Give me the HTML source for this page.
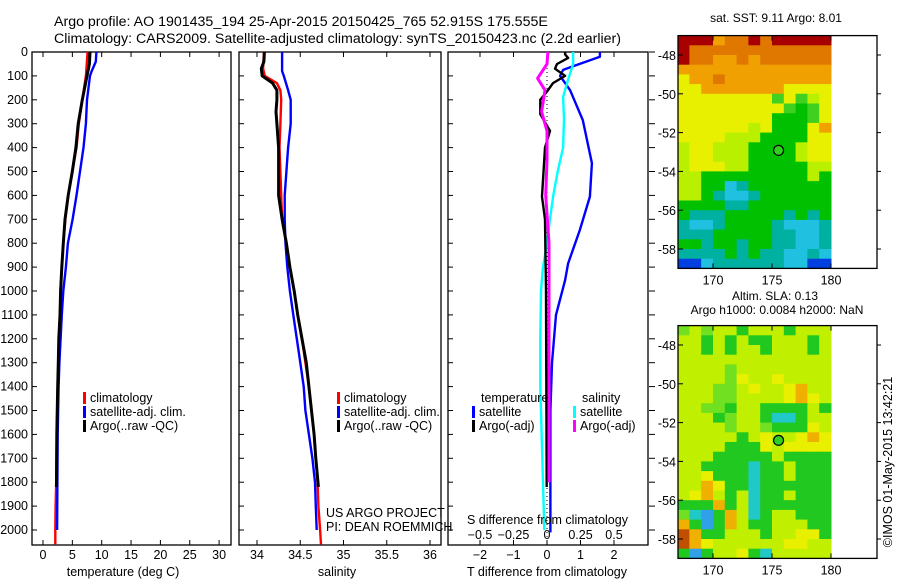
<!DOCTYPE html>
<html><head><meta charset="utf-8"><title>Argo profile</title>
<style>
html,body{margin:0;padding:0;background:#fff;}
svg{display:block;font-family:"Liberation Sans",sans-serif;}
text{fill:#000;}
</style></head>
<body>
<svg id="fig" width="900" height="580" viewBox="0 0 900 580" xmlns="http://www.w3.org/2000/svg">
<text x="54" y="26" font-size="14.2">Argo profile: AO 1901435_194 25-Apr-2015 20150425_765 52.915S 175.555E</text>
<text x="54" y="43" font-size="14.2">Climatology: CARS2009. Satellite-adjusted climatology: synTS_20150423.nc (2.2d earlier)</text>
<g id="g"></g>
</svg>
<script>
// ---- data ----
const tClimDepth = [0,100,200,300,400,500,600,700,800,900,1000,1100,1200,1300,1400,1600,1800,1900,2000,2060];
const tClimVals  = [7.6,7.3,6.7,6.1,5.7,5.0,4.3,3.8,3.45,3.2,3.0,2.9,2.7,2.6,2.5,2.35,2.25,2.15,2.1,2.1];
const tSatDepth  = [0,40,80,100,200,300,400,500,600,700,800,900,1000,1100,1200,1300,1400,1600,1800,2000];
const tSatVals   = [9.1,9.0,8.3,8.0,7.5,7.3,6.9,6.3,5.7,5.05,4.25,3.9,3.45,3.2,3.0,2.8,2.65,2.5,2.45,2.4];
const tArgoDepth = [0,50,100,200,300,400,500,600,700,800,900,1000,1100,1200,1300,1400,1600,1820];
const tArgoVals  = [8.01,7.9,7.5,6.7,6.0,5.6,5.0,4.3,3.75,3.45,3.2,3.0,2.9,2.7,2.6,2.5,2.35,2.3];

const sClimDepth = [0,70,100,130,160,200,300,400,500,600,700,800,900,1000,1100,1200,1300,1400,1500,1600,1700,1800,1900,2000,2060];
const sClimVals  = [34.08,34.07,34.09,34.23,34.27,34.28,34.27,34.26,34.27,34.28,34.29,34.34,34.38,34.43,34.47,34.52,34.56,34.60,34.63,34.66,34.68,34.70,34.71,34.73,34.74];
const sSatDepth  = [0,80,100,160,200,300,400,500,600,700,800,900,1000,1100,1200,1300,1400,1500,1600,1700,1800,1900,2000];
const sSatVals   = [34.29,34.29,34.31,34.36,34.39,34.39,34.36,34.34,34.32,34.32,34.33,34.35,34.38,34.42,34.46,34.50,34.54,34.56,34.60,34.64,34.67,34.68,34.69];
const sArgoDepth = [0,40,70,100,130,160,200,250,300,400,500,600,700,800,900,1000,1100,1200,1300,1400,1500,1600,1700,1820];
const sArgoVals  = [34.085,34.08,34.05,34.06,34.18,34.23,34.23,34.22,34.23,34.25,34.25,34.25,34.29,34.34,34.38,34.43,34.47,34.52,34.57,34.60,34.63,34.66,34.68,34.71];

const dTSatDepth = [0,20,60,75,100,160,285,465,605,745,885,955,1100,1300,1500,2010];
const dTSatVals  = [1.58,1.58,0.78,0.48,0.39,0.69,1.07,1.34,1.28,0.98,0.63,0.54,0.27,0.15,0.1,0.1];
const dSSatDepth = [0,50,117,188,280,400,500,600,700,800,900,1000,1200,1400,1800,2000];
const dSSatVals  = [0.195,0.195,0.157,0.12,0.127,0.12,0.08,0.047,0.022,0.0,-0.03,-0.045,-0.05,-0.05,-0.03,-0.02];
const dTArgoDepth= [0,10,25,50,70,100,130,160,200,260,330,400,605,700,1000,1820];
const dTArgoVals = [0.54,0.54,0.63,0.3,0.24,0.54,0.18,0.03,-0.2,-0.2,0.09,-0.06,-0.15,-0.06,-0.03,-0.01];
const dSArgoDepth= [0,50,110,160,250,330,450,600,800,1800];
const dSArgoVals = [0.007,0.0,-0.07,-0.015,-0.04,0.0,0.0,-0.01,0.015,0.015];

const depthTicks = [0,100,200,300,400,500,600,700,800,900,1000,1100,1200,1300,1400,1500,1600,1700,1800,1900,2000];
const tempTicks = [0,5,10,15,20,25,30];
const salTicks = [34,34.5,35,35.5,36];
const dTTicks = [-2,-1,0,1,2];
const dSTicks = [-0.5,-0.25,0,0.25,0.5];
const dSTickLabels = ["−0.5","−0.25","0","0.25","0.5"];
const latTicks = [48,50,52,54,56,58];
const lonTicks = [170,175,180];

const sstRows = [
"RRRoOORORRRRR","ROOOOOOOOOOOO","ROOooOoOOOOOO","ooooooooooooo","YooOooooooooo","YYoooooooYYYY",
"YYYYYYYYgYgyY","YYYYYYYYYgGgY","YYYYYYYYGGGgY","YYYYYYyYGGGYo","YYYYyyyGGGGYY","yYYyyyGGGGyYY",
"yYYyyyGGGGyYY","yYYYyyGGGGGyy","yyGGGGGGGGGyG","yyGGcCGGGGGGG","yyGCccCGGGGGG","GGGGCCGGGGGGG",
"GCCCGGGGGCGCG","CccCGGGGCcccC","CCCGGGGGCCccC","GGCGGCGGCCccC","CCCCGCGCCccCc","BBcCCCCCCccBB"];
const slaRows = [
"gygyyGyyyGyyy","yyGyGyGGyyyGy","yyGyGyyGyyyGy","yyyyyyyyyyyyy","yyyygyyyyyyyy","yyyygYyyYyyyy",
"yyyggyYyyYOyy","yyyggyyyyYOYy","yyggGyyGGGGyG","yyyGgyyGCCGyy","yyyygyygGGGYy","yyyyyGyYyyYOY",
"yyyyGGGYyYYYY","yyyGGGGGyGGGG","yyGGGGCGGyGGG","yyYGGGCGGyGGG","yyOYGGCGGGGGG","yYOyGyCGGyGGG",
"GGGOGyCGGGGGG","gCcGOyCGyyGGG","OGcGOyGGyyyGG","ROGGyyyGyyYYG","ROYyyyyyyYYyy","GcGyyYGCyyyyy"];
const sstColors = {R:"#a80000",O:"#e07800",o:"#f0a000",Y:"#e8f000",y:"#b8f000",g:"#40d020",G:"#00c000",C:"#00b0a0",c:"#20c0e0",B:"#0040e0"};
const slaColors = {R:"#c05000",O:"#f0b000",Y:"#e8f000",y:"#c0f000",g:"#70e020",G:"#20c820",C:"#20c8c8",c:"#30a0e8"};

// ---- helpers ----
const NS="http://www.w3.org/2000/svg";
const G=document.getElementById('g');
function mk(tag,attrs,parent){const e=document.createElementNS(NS,tag);for(const k in attrs)e.setAttribute(k,attrs[k]);(parent||G).appendChild(e);return e;}
const Y0=52, PY=0.239;
const yD=d=>Y0+d*PY;
const PB=545;
const xT=v=>43+v*5.87;
const xS=v=>257+(v-34)*86.5;
const xdT=v=>547+v*33.5;
const xdS=v=>547+v*134;

function panel(x0,x1,name){
  const r=mk('rect',{x:x0,y:Y0,width:x1-x0,height:PB-Y0,fill:'none',stroke:'#000','stroke-width':1.3});
  
  
  depthTicks.forEach(d=>{mk('line',{x1:x0,x2:x0+5,y1:yD(d),y2:yD(d),stroke:'#000'});});
}
function series(xf,depths,vals,color,name,w){
  const pts=depths.map((d,i)=>xf(vals[i]).toFixed(1)+','+yD(d).toFixed(1)).join(' ');
  const p=mk('polyline',{points:pts,fill:'none',stroke:color,'stroke-width':w||2.4,'stroke-linejoin':'round'});
  
  
}
function txt(x,y,s,opts){const t=mk('text',Object.assign({x:x,y:y,'font-size':12},opts||{}));t.textContent=s;return t;}

// ---- panel 1 ----
panel(32,231,'temperature-panel');
depthTicks.forEach(d=>{const t=txt(28,yD(d)+4,String(d),{'text-anchor':'end','font-size':12.5});
  
  });
tempTicks.forEach(v=>{mk('line',{x1:xT(v),x2:xT(v),y1:Y0,y2:Y0+5,stroke:'#000'});mk('line',{x1:xT(v),x2:xT(v),y1:PB,y2:PB-5,stroke:'#000'});
  const t=txt(xT(v),559,String(v),{'text-anchor':'middle','font-size':12.5});
  
  });
series(xT,tClimDepth,tClimVals,'#ff0000','temp-climatology-line');
series(xT,tSatDepth,tSatVals,'#0000ff','temp-satellite-line');
series(xT,tArgoDepth,tArgoVals,'#000000','temp-argo-line',3);
let t=txt(123,576,'temperature (deg C)',{'text-anchor':'middle','font-size':12.5});



function legend(x,y,color,label,name){
  mk('rect',{x:x,y:y-10,width:3,height:12,fill:color});
  const t=txt(x+7,y,label,{'font-size':12.5});
  
  
}
legend(83,402,'#ff0000','climatology','legend-climatology');
legend(83,416,'#0000ff','satellite-adj. clim.','legend-satellite');
legend(83,430,'#000000','Argo(..raw -QC)','legend-argo');

// ---- panel 2 ----
panel(239,441,'salinity-panel');
salTicks.forEach(v=>{mk('line',{x1:xS(v),x2:xS(v),y1:Y0,y2:Y0+5,stroke:'#000'});mk('line',{x1:xS(v),x2:xS(v),y1:PB,y2:PB-5,stroke:'#000'});
  const t=txt(xS(v),559,String(v),{'text-anchor':'middle','font-size':12.5});
  
  });
series(xS,sClimDepth,sClimVals,'#ff0000','sal-climatology-line');
series(xS,sSatDepth,sSatVals,'#0000ff','sal-satellite-line');
series(xS,sArgoDepth,sArgoVals,'#000000','sal-argo-line',3);
t=txt(337,576,'salinity',{'text-anchor':'middle','font-size':12.5});


legend(337,402,'#ff0000','climatology','legend-sal-climatology');
legend(337,416,'#0000ff','satellite-adj. clim.','legend-sal-satellite');
legend(337,430,'#000000','Argo(..raw -QC)','legend-sal-argo');
t=txt(326,517,'US ARGO PROJECT',{'font-size':12.5});


t=txt(326,531,'PI: DEAN ROEMMICH',{'font-size':12.5});



// ---- panel 3 ----
panel(448,648,'difference-panel');
depthTicks.forEach(d=>{mk('line',{x1:649,x2:655,y1:yD(d),y2:yD(d),stroke:'#000'});});
dTTicks.forEach(v=>{mk('line',{x1:xdT(v),x2:xdT(v),y1:PB,y2:PB-5,stroke:'#000'});
  const t=txt(xdT(v),559,String(v).replace('-','−'),{'text-anchor':'middle','font-size':12.5});
  
  });
dSTicks.forEach((v,i)=>{mk('line',{x1:xdS(v),x2:xdS(v),y1:Y0,y2:Y0+5,stroke:'#000'});
  const t=txt(xdS(v),539,dSTickLabels[i],{'text-anchor':'middle','font-size':12.5});
  
  });
mk('line',{x1:547,x2:547,y1:Y0,y2:PB,stroke:'#000','stroke-dasharray':'1,3'});
series(xdT,dTSatDepth,dTSatVals,'#0000ff','t-diff-satellite-line');
series(xdS,dSSatDepth,dSSatVals,'#00ffff','s-diff-satellite-line');
series(xdT,dTArgoDepth,dTArgoVals,'#000000','t-diff-argo-line');
series(xdS,dSArgoDepth,dSArgoVals,'#ff00ff','s-diff-argo-line',3);
t=txt(467,524,'S difference from climatology',{'font-size':12.5});


t=txt(547,576,'T difference from climatology',{'text-anchor':'middle','font-size':12.5});


t=txt(481,402,'temperature',{'font-size':12.5});


t=txt(582,402,'salinity',{'font-size':12.5});


legend(472,416,'#0000ff','satellite','legend-t-satellite');
legend(472,430,'#000000','Argo(-adj)','legend-t-argo');
legend(573,416,'#00ffff','satellite','legend-s-satellite');
legend(573,430,'#ff00ff','Argo(-adj)','legend-s-argo');

// ---- maps ----
const xL=lon=>713+(lon-170)*11.8;
function drawMap(rows,colors,ytop,name){
  const yL=lat=>ytop+(lat-48)*19.4;
  const g=mk('g',{});
  
  
  rows.forEach((row,ri)=>{
    const lat=47+ri*0.5;
    for(let ci=0;ci<row.length;ci++){
      mk('rect',{x:xL(167+ci).toFixed(1),y:yL(lat).toFixed(1),width:12.3,height:10.2,fill:colors[row[ci]]},g);
    }
  });
  mk('rect',{x:678,y:yL(47),width:199,height:yL(59)-yL(47),fill:'none',stroke:'#000','stroke-width':1.3});
  latTicks.forEach(l=>{mk('line',{x1:678,x2:683,y1:yL(l),y2:yL(l),stroke:'#000'});
    mk('line',{x1:877,x2:881,y1:yL(l),y2:yL(l),stroke:'#000'});
    const t=txt(676,yL(l)+5,'-'+l,{'text-anchor':'end','font-size':12.5});
    
    });
  lonTicks.forEach(l=>{mk('line',{x1:xL(l),x2:xL(l),y1:yL(47),y2:yL(47)+5,stroke:'#000'});
    mk('line',{x1:xL(l),x2:xL(l),y1:yL(59),y2:yL(59)-5,stroke:'#000'});
    const t=txt(xL(l),yL(59)+16,String(l),{'text-anchor':'middle','font-size':12.5});
    
    });
  const c=mk('circle',{cx:xL(175.555),cy:yL(52.915),r:5,fill:'#30d020',stroke:'#000','stroke-width':1.2});
  
  
}
drawMap(sstRows,sstColors,55,'sst-map');
drawMap(slaRows,slaColors,345,'sla-map');
t=txt(776,22,'sat. SST: 9.11  Argo: 8.01',{'text-anchor':'middle','font-size':12});


t=txt(775,300,'Altim. SLA: 0.13',{'text-anchor':'middle','font-size':12});


t=txt(777,314,'Argo h1000: 0.0084 h2000: NaN',{'text-anchor':'middle','font-size':12});


t=txt(0,0,'©IMOS 01-May-2015 13:42:21',{'text-anchor':'middle','font-size':12.5,transform:'translate(892,462) rotate(-90)'});


</script>
</body></html>
